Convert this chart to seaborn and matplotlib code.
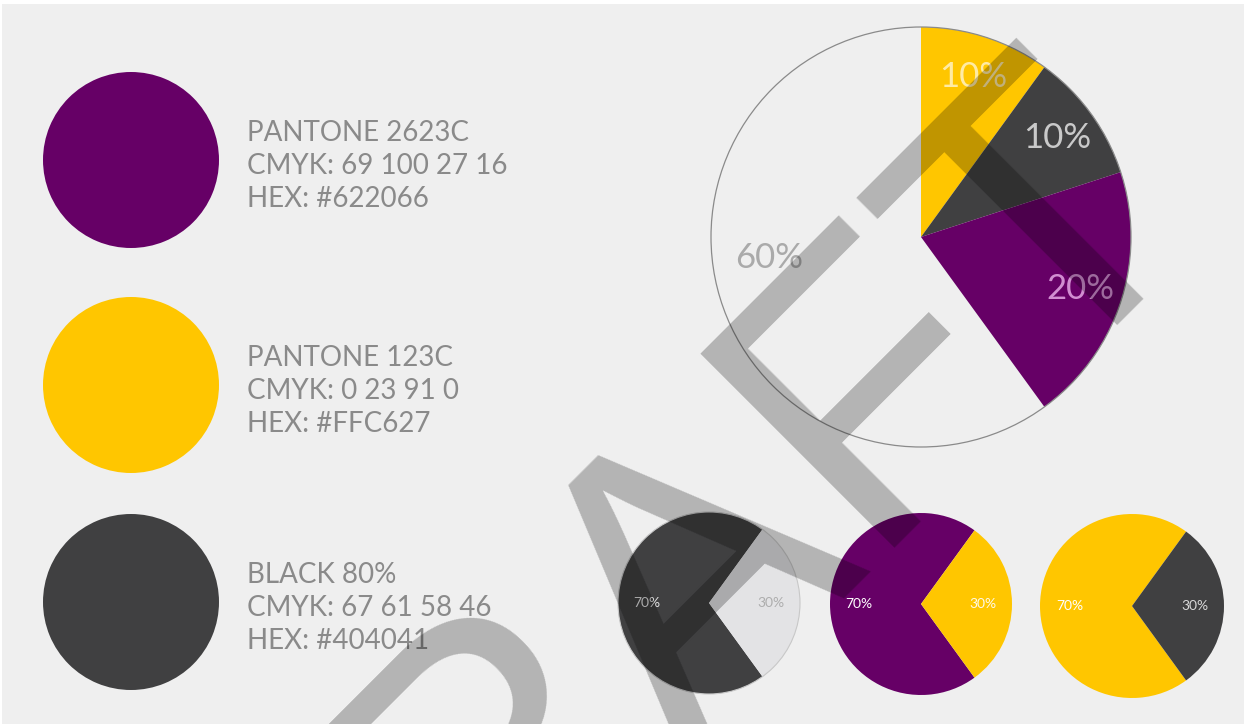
import matplotlib
matplotlib.use("Agg")
import matplotlib.pyplot as plt
from matplotlib.patches import Rectangle, Circle
import numpy as np
import seaborn as sns

# ---------------- data ----------------
swatch_names = ["PANTONE 2623C", "PANTONE 123C", "BLACK 80%"]
swatch_cmyk = ["CMYK: 69 100 27 16", "CMYK: 0 23 91 0", "CMYK: 67 61 58 46"]
swatch_hex = ["HEX: #622066", "HEX: #FFC627", "HEX: #404041"]

main_values = [10, 10, 20, 60]
main_labels = ["10%", "10%", "20%", "60%"]

small_values = [70, 30]
small_labels = ["70%", "30%"]

watermark = "DRAFT"

# ---------------- styles ----------------
PURPLE = "#660066"
YELLOW = "#FFC600"
DARK = "#404041"
LIGHT = "#E3E3E5"
BG = "#EFEFEF"
TXT = "#8A8A8A"

sns.set_theme(style="white")
plt.rcParams["font.family"] = ["Lato", "DejaVu Sans"]

W, H = 1244, 724
fig = plt.figure(figsize=(W / 100, H / 100), dpi=100, facecolor="white")
ax = fig.add_axes([0, 0, 1, 1])
ax.set_facecolor("none")
ax.axis("off")


def py(y):
    return H - y


ax.add_patch(Rectangle((2, 0), W - 2, H - 4, facecolor=BG, edgecolor="none", zorder=0))

# swatches
sw_colors = [PURPLE, YELLOW, DARK]
sw_cy = [160, 385, 602]
for name, cmyk, hx, col, cy in zip(swatch_names, swatch_cmyk, swatch_hex, sw_colors, sw_cy):
    ax.pie([1], colors=[col], center=(131, py(cy)), radius=88,
           wedgeprops=dict(linewidth=0), frame=True)
    for k, line in enumerate([name, cmyk, hx]):
        ax.text(247, py(cy - 19 + 33 * k), line, fontsize=20, color=TXT,
                fontweight="normal", ha="left", va="baseline", zorder=3)

# big pie
cx, cy, R = 921, py(237), 210
wedges, _, autotexts = ax.pie(
    main_values, colors=[YELLOW, DARK, PURPLE, "none"], startangle=90,
    counterclock=False, center=(cx, cy), radius=R, autopct="%d%%",
    pctdistance=0.8, wedgeprops=dict(linewidth=0), frame=True,
    textprops=dict(fontsize=25, fontweight="normal"))
for t, lab in zip(autotexts, main_labels):
    t.set_text(lab)
lab_colors = [(1, 1, 1, 0.65), (1, 1, 1, 0.72), (1, 0.8, 1, 0.7), "#AAAAAA"]
for t, c in zip(autotexts, lab_colors):
    t.set_color(c)
ang = np.deg2rad(188)
autotexts[3].set_position((cx + 0.73 * R * np.cos(ang), cy + 0.73 * R * np.sin(ang)))
ax.add_patch(Circle((cx, cy), R, facecolor="none", edgecolor="#8A8A8A", linewidth=0.9, zorder=2))

# small pies
small_specs = [
    dict(c=(709, 603), r=91, colors=[DARK, LIGHT], tc=[(1, 1, 1, 0.85), "#ADADAD"], edge=True),
    dict(c=(921, 604), r=91, colors=[PURPLE, YELLOW], tc=["white", (1, 1, 1, 0.9)], edge=False),
    dict(c=(1132, 606), r=92, colors=[YELLOW, DARK], tc=["white", "#D8D8D8"], edge=False),
]
for s in small_specs:
    center = (s["c"][0], py(s["c"][1]))
    w, _, ats = ax.pie(small_values, colors=s["colors"], startangle=54,
                       center=center, radius=s["r"], autopct="%d%%",
                       pctdistance=0.68, wedgeprops=dict(linewidth=0), frame=True,
                       textprops=dict(fontsize=10))
    for t, lab, c in zip(ats, small_labels, s["tc"]):
        t.set_text(lab)
        t.set_color(c)
    if s["edge"]:
        ax.add_patch(Circle(center, s["r"], facecolor="none", edgecolor="#C8C8C8",
                            linewidth=0.8, zorder=2))

# watermark
ax.text(736, py(672), watermark, fontsize=288, family="Liberation Sans",
        color=(0, 0, 0, 0.25), rotation=45, rotation_mode="anchor",
        ha="center", va="baseline", zorder=10)

ax.set_xlim(0, W)
ax.set_ylim(0, H)
ax.set_aspect("equal")
ax.axis("off")
fig.savefig("out.png", dpi=100, facecolor="white")
